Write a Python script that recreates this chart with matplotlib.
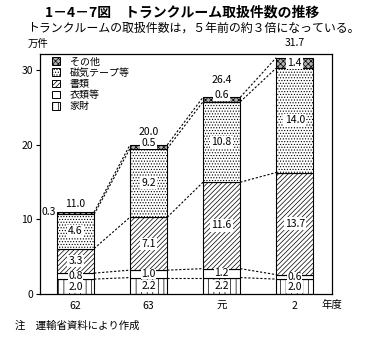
import matplotlib
matplotlib.use("Agg")
import matplotlib.pyplot as plt
from matplotlib.patches import Patch
import numpy as np

plt.rcParams['font.family'] = ['Noto Sans CJK JP', 'DejaVu Sans']
plt.rcParams['hatch.linewidth'] = 0.5

# Fiscal years
years = ["62", "63", "元", "2"]
# Items handled (10,000 cases), stacked bottom to top
kazai = [2.0, 2.2, 2.2, 2.0]        # 家財
irui = [0.8, 1.0, 1.2, 0.6]         # 衣類等
shorui = [3.3, 7.1, 11.6, 13.7]     # 書類
jiki = [4.6, 9.2, 10.8, 14.0]       # 磁気テープ等
sonota = [0.3, 0.5, 0.6, 1.4]       # その他
totals = [11.0, 20.0, 26.4, 31.7]

series = [kazai, irui, shorui, jiki, sonota]
names = ["家財", "衣類等", "書類", "磁気テープ等", "その他"]
hatches = ["|||", "", "///////", "......", "xxxxxx"]
faces = ["white", "white", "white", "white", "#b0b0b0"]

fig = plt.figure(figsize=(3.85, 3.38), dpi=100)
ax = fig.add_axes([0.1039, 0.1302, 0.7584, 0.710])

x = np.arange(len(years))
w = 0.51
bottoms = np.zeros(len(years))
levels = [bottoms.copy()]
for vals, hat, fc in zip(series, hatches, faces):
    ax.bar(x, vals, w, bottom=bottoms, facecolor=fc, edgecolor="black",
           hatch=hat, linewidth=0.8, zorder=2)
    bottoms = bottoms + np.array(vals)
    levels.append(bottoms.copy())

# dashed connectors between neighbouring bars at each boundary
for lev in levels[1:]:
    for i in range(len(years) - 1):
        ax.plot([x[i] + w / 2, x[i + 1] - w / 2], [lev[i], lev[i + 1]],
                color="black", lw=0.8, ls=(0, (2, 1.6)), zorder=1)

box = dict(facecolor="white", edgecolor="none", pad=0.8)
fs = 7.5
# segment labels
for k, vals in enumerate(series):
    for i, v in enumerate(vals):
        mid = levels[k][i] + v / 2
        if k == 4 and v < 1.0:
            if i == 0:
                ax.text(x[i] - w / 2 - 0.02, levels[5][i], f"{v:.1f}",
                        ha="right", va="center", fontsize=fs, zorder=4)
            else:
                ax.text(x[i], levels[5][i] + 0.3, f"{v:.1f}", ha="center",
                        va="center", fontsize=fs, bbox=box, zorder=4)
        elif k == 1:
            ax.text(x[i], mid, f"{v:.1f}", ha="center", va="center",
                    fontsize=fs, bbox=dict(facecolor="white", edgecolor="none", pad=0.2),
                    zorder=4)
        else:
            ax.text(x[i], mid, f"{v:.1f}", ha="center", va="center",
                    fontsize=fs, bbox=box, zorder=4)

# totals above bars
offs = [1.1, 1.8, 2.3, 2.0]
for i, t in enumerate(totals):
    ax.text(x[i], t + offs[i], f"{t:.1f}", ha="center", va="center",
            fontsize=fs, clip_on=False, zorder=4)

ax.set_xlim(-0.486, 3.51)
ax.set_ylim(0, 32.2)
ax.set_xticks(x)
ax.set_xticklabels(years, fontsize=fs)
ax.set_yticks([0, 10, 20, 30])
ax.set_yticklabels(["0", "10", "20", "30"], fontsize=fs)
ax.tick_params(axis="x", length=0, pad=5)
ax.tick_params(axis="y", length=3, width=0.8, pad=2, direction="out")
for s in ax.spines.values():
    s.set_linewidth(0.9)

ax.text(1.0, -0.046, "年度", transform=ax.transAxes, ha="center", va="center",
        fontsize=fs)

handles = [Patch(facecolor=fc, edgecolor="black", hatch=h, linewidth=0.7)
           for fc, h in zip(faces, hatches)]
leg = ax.legend(handles[::-1], names[::-1], loc="upper left",
                bbox_to_anchor=(0.04, 0.99), frameon=False, fontsize=7.2,
                handlelength=0.8, handleheight=0.8, labelspacing=0.12,
                handletextpad=1.0, borderpad=0, borderaxespad=0)

fig.text(0.473, 0.962, "1－4－7図　トランクルーム取扱件数の推移",
         ha="center", va="center", fontsize=10, fontweight="bold")
fig.text(0.07, 0.917, "トランクルームの取扱件数は，５年前の約３倍になっている。",
         ha="left", va="center", fontsize=8.6)
fig.text(0.073, 0.870, "万件", ha="left", va="center", fontsize=7.5)
fig.text(0.039, 0.036, "注　運輸省資料により作成", ha="left", va="center",
         fontsize=7.5)

fig.savefig("out.png", dpi=100)
